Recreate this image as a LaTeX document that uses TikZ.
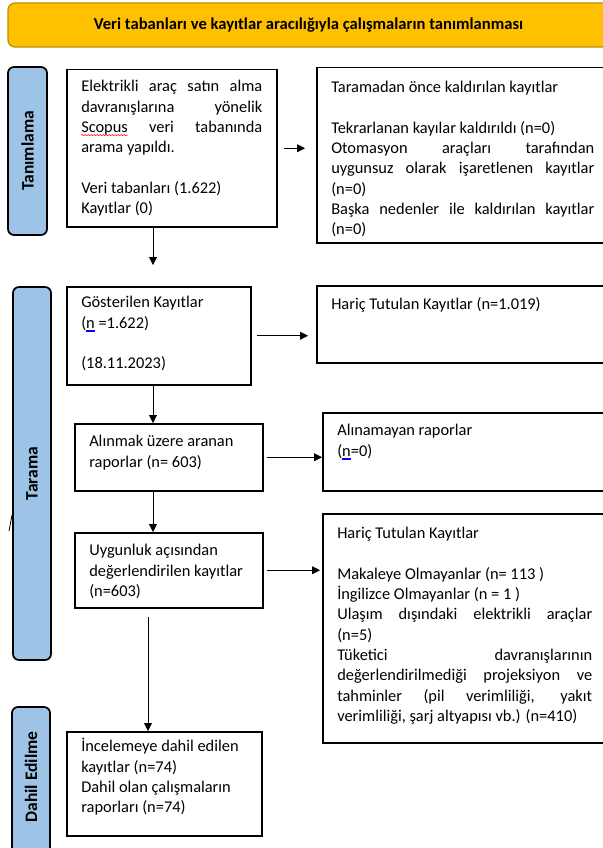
\documentclass[tikz,border=0pt]{standalone}
\usepackage{fontspec}
\setmainfont{Carlito}
\usetikzlibrary{arrows.meta,decorations.pathmorphing}
\definecolor{bannergold}{HTML}{FFC000}
\definecolor{bannerrim}{HTML}{BF9000}
\definecolor{stageblue}{HTML}{9DC3E6}
% box contents: width, height, top gap, text
\newcommand{\boxtext}[4]{\parbox[t][#2][t]{#1}{\vspace*{#3}\strut #4}}
\newlength{\marklen}
\newcommand{\spellmark}[1]{\settowidth{\marklen}{#1}\rlap{#1}\tikz[baseline=0pt]{%
    \useasboundingbox (0pt,0pt) rectangle (\marklen,0pt);
    \draw[red, line width=0.5pt, decorate, decoration={snake, amplitude=0.7pt, segment length=3pt}]
      (0pt,-2.8pt) -- (\marklen,-2.8pt);}}
\newcommand{\grammarmark}[1]{\settowidth{\marklen}{#1}\rlap{#1}\textcolor{blue}{%
    \rlap{\rule[-2.4pt]{\marklen}{0.5pt}}\rule[-3.8pt]{\marklen}{0.5pt}}}
\tikzset{
  box/.style={draw, line width=1.5pt, anchor=north west, inner xsep=14.5pt, inner ysep=0pt,
    font=\fontsize{16.4pt}{20.3pt}\selectfont},
  stage/.style={draw, line width=1.7pt, fill=stageblue, rounded corners=6pt, rotate=90,
    inner sep=0pt, font=\fontsize{17.5pt}{20pt}\selectfont\bfseries},
  arr/.style={line width=0.8pt, -{Triangle[length=8pt,width=8pt]}},
}

\begin{document}
\begin{tikzpicture}[x=1pt,y=-1pt]
    \useasboundingbox (0,0) rectangle (602,848);

    % Title
    \node[draw=bannerrim, fill=bannergold, line width=1.3pt, rounded corners=7pt,
      minimum width=601pt, minimum height=44pt, font=\fontsize{16.6pt}{20pt}\selectfont\bfseries]
      (title) at (308.5,25) {Veri tabanları ve kayıtlar aracılığıyla çalışmaların tanımlanması};

    % Stages
    \node[stage, minimum width=168pt, minimum height=39pt] (defStage) at (27.5,151) {Tanımlama};
    \node[stage, minimum width=373pt, minimum height=38pt] (scrStage) at (32,473.5) {Tarama};
    \node[stage, minimum width=153pt, minimum height=38pt] (incStage) at (31,783.5) {\hspace*{13pt}Dahil Edilme};
    \draw[line width=0.8pt] (9,531) -- (12,515);

    % Identification
    \node[box] (search) at (66,69) {\boxtext{181pt}{157pt}{7.8pt}{Elektrikli araç satın alma\linebreak
      davranışlarına yönelik\linebreak \spellmark{Scopus} veri tabanında\linebreak arama yapıldı.\\[\baselineskip]
      Veri tabanları (1.622)\\ Kayıtlar (0)}};
    \node[box] (removed) at (316,67) {\boxtext{263pt}{175pt}{10.8pt}{Taramadan önce kaldırılan kayıtlar\\[\baselineskip]
      Tekrarlanan kayılar kaldırıldı (n=0)\\ Otomasyon araçları tarafından\linebreak
      uygunsuz olarak işaretlenen kayıtlar\linebreak (n=0)\\
      Başka nedenler ile kaldırılan kayıtlar\linebreak (n=0)}};

    % Screening
    \node[box] (shown) at (66,286) {\boxtext{155pt}{98pt}{6.8pt}{Gösterilen Kayıtlar\\
      (\grammarmark{n} =1.622)\\[\baselineskip] (18.11.2023)}};
    \node[box] (excl) at (316,285) {\boxtext{263pt}{77pt}{9.8pt}{Hariç Tutulan Kayıtlar (n=1.019)}};
    \node[box] (sought) at (74,423) {\boxtext{159pt}{67pt}{8.8pt}{Alınmak üzere aranan\\ raporlar (n= 603)}};
    \node[box] (notret) at (322,412) {\boxtext{263pt}{78pt}{8.8pt}{Alınamayan raporlar\\ (\grammarmark{n}=0)}};
    \node[box] (assessed) at (74,532) {\boxtext{159pt}{75pt}{8.8pt}{Uygunluk açısından\\
      değerlendirilen kayıtlar\\ (n=603)}};
    \node[box] (exclb) at (322,513) {\boxtext{255pt}{229pt}{10.8pt}{Hariç Tutulan Kayıtlar\\[\baselineskip]
      Makaleye Olmayanlar (n= 113 )\\ İngilizce Olmayanlar (n = 1 )\\
      Ulaşım dışındaki elektrikli araçlar\linebreak (n=5)\\
      Tüketici davranışlarının\linebreak değerlendirilmediği projeksiyon ve\linebreak
      tahminler (pil verimliliği, yakıt\linebreak verimliliği, şarj altyapısı vb.) (n=410)}};

    % Included
    \node[box] (incl) at (66,731) {\boxtext{166pt}{104pt}{5.8pt}{İncelemeye dahil edilen\\
      kayıtlar (n=74)\\ Dahil olan çalışmaların\\ raporları (n=74)}};

    % Arrows
    \coordinate (spineA) at (153,0);
    \coordinate (spineB) at (148,0);
    \draw[arr, shorten <=6pt, shorten >=11pt] (search.east) -- (search.east -| removed.west);
    \draw[arr, shorten >=21pt] (spineA |- search.south) -- (spineA |- shown.north);
    \draw[arr, shorten <=5pt, shorten >=8pt] (shown.east) -- (shown.east -| excl.west);
    \draw[arr] (spineA |- shown.south) -- (spineA |- sought.north);
    \draw[arr, shorten <=3pt] (sought.east) -- (sought.east -| notret.west);
    \draw[arr] (spineA |- sought.south) -- (spineA |- assessed.north);
    \draw[arr, shorten <=3pt, shorten >=2pt] (assessed.east) -- (assessed.east -| exclb.west);
    \draw[arr, shorten <=8pt] (spineB |- assessed.south) -- (spineB |- incl.north);
\end{tikzpicture}
\end{document}
